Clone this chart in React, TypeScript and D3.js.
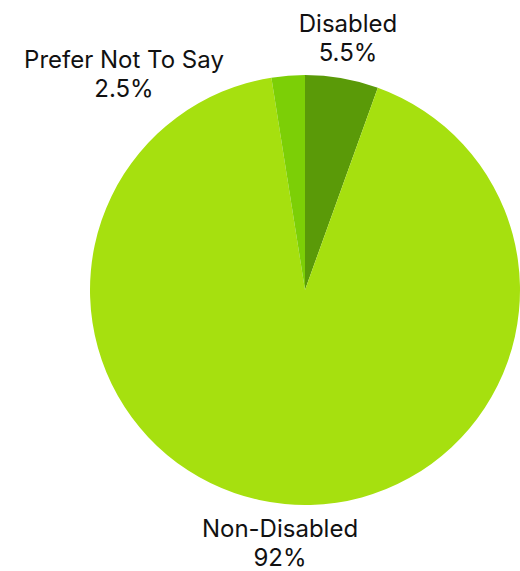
import React from "react";
import * as d3 from "d3";

const categories = ["Disabled", "Non-Disabled", "Prefer Not To Say"];
const values = [5.5, 92, 2.5];
const valueLabels = ["5.5%", "92%", "2.5%"];
const colors = ["#5a9a08", "#a6e00f", "#7ccf06"];

const W = 520;
const H = 571;
const cx = 305;
const cy = 290;
const R = 215;

const labelPos: { x: number; y: number }[] = [
  { x: 348, y: 32 },
  { x: 280, y: 537 },
  { x: 124, y: 68 },
];

export default function App() {
  const pie = d3.pie<number>().sort(null).value((d) => d)(values);
  const arc = d3.arc<d3.PieArcDatum<number>>().innerRadius(0).outerRadius(R);
  return (
    <svg
      width={W}
      height={H}
      style={{ position: "absolute", left: 0, top: 0 }}
      fontFamily="Inter, 'Noto Sans', sans-serif"
    >
      <g transform={`translate(${cx},${cy})`}>
        {pie.map((p, i) => (
          <path key={i} d={arc(p) || ""} fill={colors[i]} />
        ))}
      </g>
      {categories.map((c, i) => (
        <text key={c} textAnchor="middle" fontSize={24} fill="#111">
          <tspan x={labelPos[i].x} y={labelPos[i].y}>{c}</tspan>
          <tspan x={labelPos[i].x} y={labelPos[i].y + 29}>{valueLabels[i]}</tspan>
        </text>
      ))}
    </svg>
  );
}
